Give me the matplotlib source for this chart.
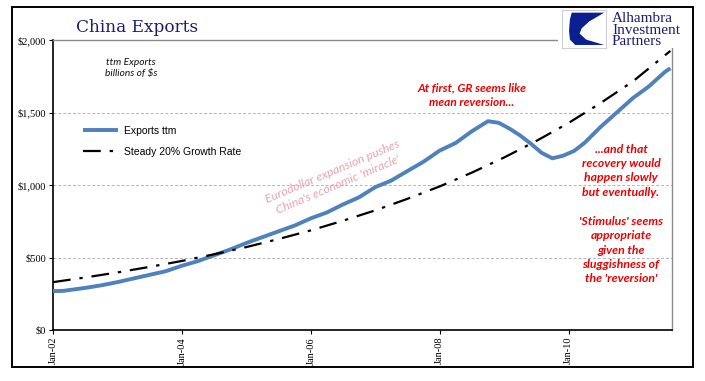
import matplotlib
matplotlib.use("Agg")
import matplotlib.pyplot as plt
from matplotlib.patches import Rectangle, Polygon
import pandas as pd

W, H = 705, 381

# ---------------- data ----------------
export_dates = ["2002-01", "2002-03", "2002-07", "2002-10", "2003-01", "2003-04", "2003-07",
                "2003-10", "2004-01", "2004-04", "2004-07", "2004-10", "2005-01", "2005-04",
                "2005-07", "2005-10", "2006-01", "2006-04", "2006-07", "2006-10", "2007-01",
                "2007-04", "2007-07", "2007-10", "2008-01", "2008-04", "2008-07", "2008-10",
                "2008-12", "2009-02", "2009-04", "2009-06", "2009-08", "2009-10", "2009-12",
                "2010-02", "2010-04", "2010-07", "2010-10", "2011-01", "2011-04", "2011-07",
                "2011-08"]
exports_ttm = [268, 270, 290, 308, 330, 355, 380,
               405, 443, 475, 515, 555, 600, 640,
               680, 720, 770, 810, 865, 915, 985,
               1030, 1095, 1160, 1237, 1290, 1370, 1440,
               1429, 1388, 1342, 1285, 1222, 1184, 1202,
               1235, 1290, 1400, 1500, 1600, 1680, 1780,
               1805]

growth_dates = ["2002-01", "2002-07", "2003-01", "2003-07", "2004-01", "2004-07", "2005-01",
                "2005-07", "2006-01", "2006-07", "2007-01", "2007-07", "2008-01", "2008-07",
                "2009-01", "2009-07", "2010-01", "2010-07", "2011-01", "2011-08"]
growth_20 = [330, 362, 397, 435, 476, 522, 572,
             627, 687, 753, 825, 904, 990, 1085,
             1190, 1303, 1428, 1565, 1715, 1925]

y_ticks = [0, 500, 1000, 1500, 2000]
y_tick_labels = ["$0", "$500", "$1,000", "$1,500", "$2,000"]
x_tick_dates = ["2002-01-01", "2004-01-01", "2006-01-01", "2008-01-01", "2010-01-01"]
x_tick_labels = ["Jan-02", "Jan-04", "Jan-06", "Jan-08", "Jan-10"]

# ---------------- figure ----------------
fig = plt.figure(figsize=(W / 100, H / 100), dpi=100)
fig.patch.set_facecolor("white")

def fx(x):
    return x / W

def fy(y):
    return 1 - y / H

ax_l, ax_r, ax_t, ax_b = 53, 672, 40, 330
ax = fig.add_axes([fx(ax_l), fy(ax_b), (ax_r - ax_l) / W, (ax_b - ax_t) / H])

ed = pd.to_datetime(export_dates)
gd = pd.to_datetime(growth_dates)

for yv in [500, 1000, 1500]:
    ax.axhline(yv, color="#b5b5b5", lw=0.7, ls=(0, (3, 2)), zorder=1)

ax.plot(ed, exports_ttm, color="#4f81bd", lw=2.8, label="Exports ttm", zorder=3,
        solid_capstyle="butt")
ax.plot(gd, growth_20, color="black", lw=1.6, ls=(0, (8, 4, 1.5, 4)),
        label="Steady 20% Growth Rate", zorder=4)

ax.set_ylim(0, 2000)
ax.set_xlim(pd.Timestamp("2002-01-01"), pd.Timestamp("2011-08-10"))
ax.set_yticks(y_ticks)
ax.set_yticklabels(y_tick_labels, family="Liberation Serif", fontsize=7.5)
ax.set_xticks(pd.to_datetime(x_tick_dates))
ax.set_xticklabels(x_tick_labels, family="Liberation Serif", fontsize=7.5, rotation=90)
ax.tick_params(axis="both", direction="out", length=3, width=0.8, pad=2)

for s in ["left", "bottom"]:
    ax.spines[s].set_color("black")
    ax.spines[s].set_linewidth(1.2)
for s in ["top", "right"]:
    ax.spines[s].set_color("#8a8a8a")
    ax.spines[s].set_linewidth(1.0)

leg = ax.legend(loc="upper left", bbox_to_anchor=(fx(83), fy(126)),
                bbox_transform=fig.transFigure, frameon=False,
                prop={"family": "Liberation Sans", "size": 7.5},
                handlelength=3.4, handletextpad=0.5, labelspacing=1.05,
                borderpad=0, borderaxespad=0)

# ---------------- texts ----------------
fig.text(fx(137), fy(27), "China Exports", family="DejaVu Serif", fontsize=12.2,
         color="#1c1c6e", ha="center", va="center")

fig.text(fx(131), fy(68), "ttm Exports\nbillions of $s", family="Lato", style="italic",
         fontsize=7.3, color="#111111", ha="center", va="center", linespacing=1.35)

fig.text(fx(472), fy(95), "At first, GR seems like\nmean reversion...", family="Lato",
         style="italic", weight="bold", fontsize=8.6, color="#ee0000", ha="center",
         va="center", linespacing=1.35)

fig.text(fx(621), fy(214),
         "...and that\nrecovery would\nhappen slowly\nbut eventually.\n\n"
         "'Stimulus' seems\nappropriate\ngiven the\nsluggishness of\nthe 'reversion'",
         family="Lato", style="italic", weight="bold", fontsize=8.8, color="#ee0000",
         ha="center", va="center", linespacing=1.38)

fig.text(fx(335), fy(178), "Eurodollar expansion pushes\nChina's economic 'miracle'",
         family="Lato", style="italic", fontsize=8.8, color="#e9a3ab", ha="center",
         va="center", rotation=23, rotation_mode="anchor", linespacing=1.3)

# ---------------- logo ----------------
fig.add_artist(Rectangle((fx(558), fy(48)), (690 - 558) / W, (48 - 9) / H,
                         facecolor="white", edgecolor="none",
                         transform=fig.transFigure, zorder=5))
lax = fig.add_axes([fx(562), fy(48), 44 / W, 38 / H], zorder=6)
lax.set_xlim(0, 1)
lax.set_ylim(0, 1)
lax.set_xticks([])
lax.set_yticks([])
for s in lax.spines.values():
    s.set_color("#cfcfcf")
    s.set_linewidth(0.8)
lax.add_patch(Polygon([(0.22, 0.93), (0.96, 0.93), (0.62, 0.70), (0.45, 0.52),
                       (0.40, 0.38), (0.55, 0.22), (0.96, 0.08), (0.30, 0.08),
                       (0.18, 0.22), (0.16, 0.45), (0.18, 0.75)],
                      closed=True, color="#0b1f8f", lw=0))
fig.text(fx(612), fy(30), "Alhambra\nInvestment\nPartners", family="Liberation Serif",
         fontsize=11, color="#1c1c6e", ha="left", va="center", linespacing=0.85,
         zorder=7)

# ---------------- frame ----------------
fig.add_artist(Rectangle((fx(12), fy(367)), (693 - 12) / W, (367 - 7) / H, fill=False,
                         lw=1.4, edgecolor="black", transform=fig.transFigure, zorder=8))

fig.savefig("out.png", dpi=100, facecolor="white")
